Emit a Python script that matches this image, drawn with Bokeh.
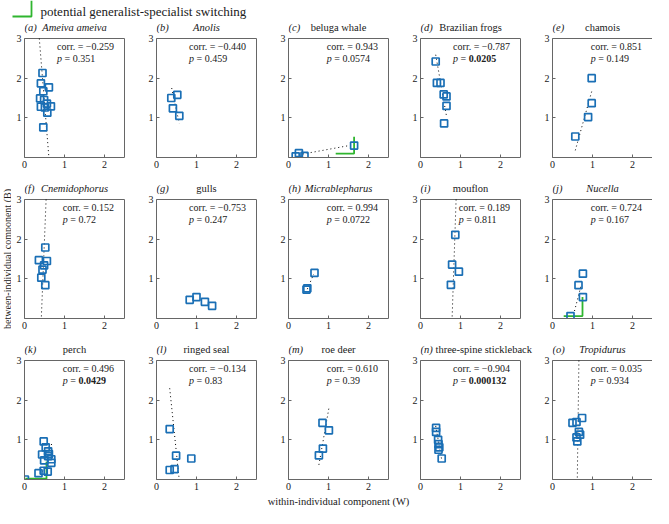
import math
from bokeh.plotting import figure
from bokeh.models import Label, Range1d, FixedTicker
from bokeh.layouts import column, row
from bokeh.embed import file_html
from bokeh.resources import INLINE

FONT = "Liberation Serif"
BLUE = "#1a6fb5"
GREEN = "#2fb52f"
FRAME = "#666666"
TXT = "#202020"

# ---------------- data ----------------
tags = list("abcdefghijklmno")
names = ["Ameiva ameiva", "Anolis", "beluga whale", "Brazilian frogs", "chamois",
         "Cnemidophorus", "gulls", "Micrablepharus", "mouflon", "Nucella",
         "perch", "ringed seal", "roe deer", "three-spine stickleback", "Tropidurus"]
italic_name = [True, True, False, False, False, True, False, True, False, True,
               False, False, False, False, True]
corr = ["−0.259", "−0.440", "0.943", "−0.787", "0.851", "0.152", "−0.753", "0.994",
        "0.189", "0.724", "0.496", "−0.134", "0.610", "−0.904", "0.035"]
pval = ["0.351", "0.459", "0.0574", "0.0205", "0.149", "0.72", "0.247", "0.0722",
        "0.811", "0.167", "0.0429", "0.83", "0.39", "0.000132", "0.934"]

W_a = [0.45, 0.41, 0.61, 0.47, 0.39, 0.49, 0.56, 0.66, 0.41, 0.51, 0.57, 0.47]
B_a = [2.13, 1.87, 1.77, 1.67, 1.49, 1.45, 1.36, 1.29, 1.28, 1.26, 1.13, 0.76]
W_b = [0.37, 0.52, 0.41, 0.57]
B_b = [1.50, 1.58, 1.24, 1.05]
W_c = [0.18, 0.26, 0.40, 1.64]
B_c = [0.03, 0.11, 0.04, 0.30]
W_d = [0.38, 0.41, 0.50, 0.58, 0.65, 0.65, 0.59]
B_d = [2.42, 1.88, 1.88, 1.59, 1.54, 1.30, 0.86]
W_e = [0.98, 0.98, 0.89, 0.57]
B_e = [2.00, 1.37, 1.02, 0.53]
W_f = [0.52, 0.36, 0.56, 0.49, 0.45, 0.42, 0.52]
B_f = [1.79, 1.47, 1.45, 1.34, 1.23, 1.03, 0.84]
W_g = [0.83, 1.00, 1.21, 1.39]
B_g = [0.47, 0.54, 0.42, 0.32]
W_h = [0.65, 0.47, 0.45]
B_h = [1.15, 0.76, 0.73]
W_i = [0.87, 0.79, 0.96, 0.76]
B_i = [2.11, 1.36, 1.18, 0.85]
W_j = [0.76, 0.65, 0.76, 0.45]
B_j = [1.13, 0.84, 0.54, 0.06]
W_k = [0.48, 0.53, 0.59, 0.61, 0.44, 0.59, 0.67, 0.67, 0.49, 0.48, 0.58, 0.35, 0.01]
B_k = [0.96, 0.81, 0.71, 0.64, 0.63, 0.59, 0.51, 0.42, 0.48, 0.22, 0.20, 0.16, 0.00]
W_l = [0.33, 0.49, 0.87, 0.33, 0.45]
B_l = [1.27, 0.60, 0.53, 0.24, 0.26]
W_m = [0.85, 1.01, 0.86, 0.76]
B_m = [1.43, 1.24, 0.78, 0.61]
W_n = [0.39, 0.39, 0.44, 0.45, 0.47, 0.45, 0.53]
B_n = [1.30, 1.20, 1.00, 0.89, 0.81, 0.75, 0.53]
W_o = [0.50, 0.60, 0.74, 0.66, 0.69, 0.60, 0.62]
B_o = [1.43, 1.45, 1.55, 1.20, 1.13, 1.06, 0.96]

W = [W_a, W_b, W_c, W_d, W_e, W_f, W_g, W_h, W_i, W_j, W_k, W_l, W_m, W_n, W_o]
B = [B_a, B_b, B_c, B_d, B_e, B_f, B_g, B_h, B_i, B_j, B_k, B_l, B_m, B_n, B_o]

# dotted trend line end points (W, B); None where no line is visible
fit_W = [[0.37, 0.61], [0.38, 0.57], [0.26, 1.62], [0.38, 0.65], [0.57, 0.99],
         [0.54, 0.42], None, [0.47, 0.63], [0.89, 0.79], [0.55, 0.71],
         [0.45, 0.68], [0.33, 0.56], [0.76, 1.01], [0.38, 0.53], [0.66, 0.62]]
fit_B = [[3.0, 0.0], [1.75, 0.86], [0.07, 0.32], [2.59, 1.04], [0.18, 1.70],
         [3.0, 0.0], None, [0.74, 1.12], [3.0, 0.0], [0.19, 0.81],
         [0.20, 0.90], [2.30, 0.07], [0.37, 1.80], [1.35, 0.50], [3.0, 0.0]]

# generalist-specialist switching markers: (W from, W to, B low, B high)
switch = {2: (1.18, 1.64, 0.10, 0.52), 9: (0.28, 0.75, 0.06, 0.54), 10: (0.02, 0.55, 0.02, 0.45)}

x_ticks = [0, 1, 2]
y_ticks = [1, 2, 3]
X_MAX, Y_MAX = 2.5, 3.0
legend_text = "potential generalist-specialist switching"
x_label = "within-individual component (W)"
y_label = "between-individual component (B)"

# ---------------- layout (pixels) ----------------
FW, FH = 100, 119          # box size
EXT_T = 16                 # room above box for the panel title
EXT_R = 14                 # room right of box for long titles
YLAB_W = 11
LB1, LB = 13, 18
TB, BB, BB3 = 1, 25, 15
LEG_H, XLAB_H = 21, 13

CW = {'c': .444, 'o': .5, 'r': .333, '.': .25, ' ': .25, '=': .564, '−': .564, 'p': .5}


def tw(s, size):
    return sum(CW.get(ch, .5) for ch in s) * size


def panel(i):
    r, c = divmod(i, 5)
    ext_r = EXT_R if c < 4 else 0
    fw = FW + ext_r
    fh = FH + EXT_T
    p = figure(frame_width=fw, frame_height=fh,
               x_range=Range1d(0, X_MAX * fw / FW), y_range=Range1d(0, Y_MAX * fh / FH),
               output_backend="svg", toolbar_location=None, title=None,
               min_border_left=LB1 if c == 0 else LB, min_border_right=0,
               min_border_top=TB, min_border_bottom=BB3 if r == 2 else BB)
    p.xgrid.visible = False
    p.ygrid.visible = False
    p.outline_line_color = None
    p.background_fill_color = "white"
    p.border_fill_color = "white"
    p.xaxis.ticker = FixedTicker(ticks=x_ticks)
    p.yaxis.ticker = FixedTicker(ticks=y_ticks)
    p.xaxis.bounds = (0, X_MAX)
    p.yaxis.bounds = (0, Y_MAX)
    for ax in (p.xaxis[0], p.yaxis[0]):
        ax.major_tick_in = 3
        ax.major_tick_out = 0
        ax.minor_tick_line_color = None
        ax.axis_line_color = FRAME
        ax.major_tick_line_color = FRAME
        ax.major_label_text_font = FONT
        ax.major_label_text_font_size = "10px"
        ax.major_label_text_color = TXT
        ax.major_label_standoff = 3

    # box
    p.quad(left=[0], right=[X_MAX], bottom=[0], top=[Y_MAX], fill_color=None,
           line_color=FRAME, line_width=1)

    if fit_W[i] is not None:
        p.line(fit_W[i], fit_B[i], line_color="black", line_width=1, line_dash="1 3")
    if i in switch:
        x0, x1, y0, y1 = switch[i]
        p.line([x0, x1, x1], [y0, y0, y1], line_color=GREEN, line_width=1.8)
    p.scatter(W[i], B[i], marker="square", size=7, fill_color=None,
              line_color=BLUE, line_width=1.7)

    # title
    p.add_layout(Label(x=0, y=Y_MAX, x_offset=0, y_offset=11, text="(" + tags[i] + ")",
                       text_font=FONT, text_font_size="10.5px", text_font_style="italic",
                       text_baseline="middle", text_align="left", text_color=TXT))
    nw = len(names[i]) * 0.42 * 10.5
    if nw > 72:
        name_lbl = Label(x=0, y=Y_MAX, x_offset=15, y_offset=11, text_align="left", text=names[i])
    else:
        name_lbl = Label(x=X_MAX / 2, y=Y_MAX, y_offset=11, text_align="center", text=names[i])
    name_lbl.text_font = FONT
    name_lbl.text_font_size = "10.5px"
    name_lbl.text_font_style = "italic" if italic_name[i] else "normal"
    name_lbl.text_baseline = "middle"
    name_lbl.text_color = TXT
    p.add_layout(name_lbl)

    # statistics
    fs = 10
    ctext = "corr. = " + corr[i]
    lx = 0.9 * FW - tw(ctext, fs)
    common = dict(x=0, y=Y_MAX, text_font=FONT, text_font_size="10px", text_baseline="middle",
                  text_align="left", text_color=TXT)
    p.add_layout(Label(x_offset=lx, y_offset=-8, text=ctext, **common))
    p.add_layout(Label(x_offset=lx, y_offset=-20, text="p", text_font_style="italic", **common))
    p.add_layout(Label(x_offset=lx + tw("p ", fs), y_offset=-20, text="=", **common))
    bold = float(pval[i]) < 0.05
    p.add_layout(Label(x_offset=lx + tw("p = ", fs), y_offset=-20, text=pval[i],
                       text_font_style="bold" if bold else "normal", **common))
    return p


def blank(w, h):
    f = figure(width=w, height=h, x_range=Range1d(0, w), y_range=Range1d(0, h),
               output_backend="svg", toolbar_location=None, title=None,
               x_axis_location=None, y_axis_location=None, min_border=0)
    f.xgrid.visible = False
    f.ygrid.visible = False
    f.outline_line_color = None
    return f


panels = [panel(i) for i in range(15)]
PITCH = LB + FW + EXT_R
GRID_W = (LB1 + FW + EXT_R) + 3 * PITCH + (LB + FW)
TOTAL_W = YLAB_W + GRID_W
ROW_H = TB + FH + EXT_T + BB
GRID_H = 2 * ROW_H + (TB + FH + EXT_T + BB3)

# legend strip
leg = blank(TOTAL_W, LEG_H)
leg.line([12, 31, 31], [5, 5, LEG_H], line_color=GREEN, line_width=1.8)
leg.add_layout(Label(x=40, y=10, text=legend_text, text_font=FONT, text_font_size="13px",
                     text_baseline="middle", text_align="left", text_color=TXT))

# y-axis label strip (centred on the middle row's box)
ylab = blank(YLAB_W, GRID_H)
mid_from_top = ROW_H + TB + EXT_T + FH / 2
ylab.add_layout(Label(x=YLAB_W / 2 + 1, y=GRID_H - mid_from_top, text=y_label, angle=math.pi / 2,
                      text_font=FONT, text_font_size="10px", text_baseline="middle",
                      text_align="center", text_color=TXT))

# x-axis label strip (centred on the middle column's box)
xlab = blank(TOTAL_W, XLAB_H)
mid_x = YLAB_W + LB1 + FW + EXT_R + PITCH + LB + FW / 2
xlab.add_layout(Label(x=mid_x, y=XLAB_H / 2, text=x_label, text_font=FONT,
                      text_font_size="10.5px", text_baseline="middle", text_align="center",
                      text_color=TXT))

grid = column(row(*panels[0:5]), row(*panels[5:10]), row(*panels[10:15]))
layout = column(leg, row(ylab, grid), xlab)

open("out.html", "w").write(file_html(layout, INLINE))
